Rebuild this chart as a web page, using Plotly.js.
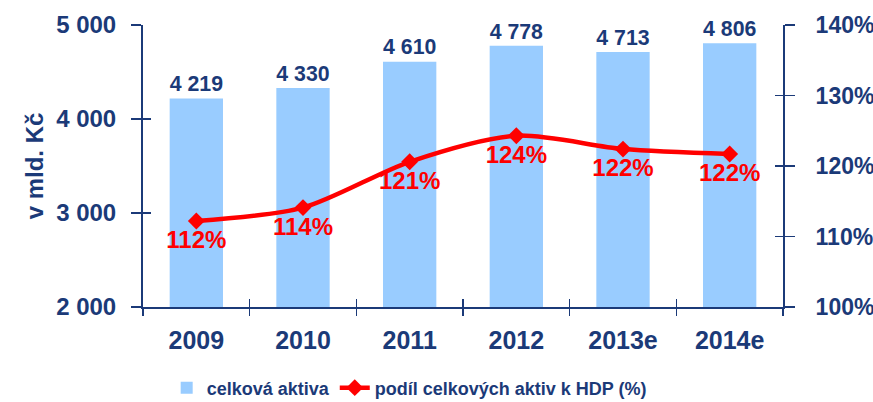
<!DOCTYPE html>
<html>
<head>
<meta charset="utf-8">
<script src="https://cdn.plot.ly/plotly-3.0.1.min.js"></script>
<style>html,body{margin:0;padding:0;background:#fff;}#chart{width:873px;height:402px;}</style>
</head>
<body>
<div id="chart"></div>
<script>
const years = ['2009', '2010', '2011', '2012', '2013e', '2014e'];
const assets = [4219, 4330, 4610, 4778, 4713, 4806];
const shareGDP = [112.2, 114.1, 120.6, 124.3, 122.4, 121.7];
const yTicks = [2000, 3000, 4000, 5000];
const y2Ticks = [100, 110, 120, 130, 140];
const y2TickText = y2Ticks.map(v => v + '%');

const navy = '#1b3a78';
const fam = 'Arial, "Liberation Sans", sans-serif';

const traces = [
  {
    type: 'bar', x: years, y: assets, name: 'celková aktiva',
    marker: {color: '#99ccff'},
    texttemplate: '%{y:,d}', textposition: 'outside', cliponaxis: false,
    textfont: {family: fam, size: 25, color: navy, weight: 'bold'},
    hoverinfo: 'skip'
  },
  {
    type: 'scatter', x: years, y: shareGDP, yaxis: 'y2', name: 'podíl celkových aktiv k HDP (%)',
    mode: 'lines+markers+text',
    line: {color: '#ff0000', width: 4.5, shape: 'spline', smoothing: 0.8},
    marker: {symbol: 'diamond', size: 13, color: '#ff0000'},
    texttemplate: '%{y:.0f}%', textposition: 'bottom center', cliponaxis: false,
    textfont: {family: fam, size: 24, color: '#ff0000', weight: 'bold'},
    hoverinfo: 'skip'
  }
];

const layout = {
  width: 873, height: 402,
  margin: {l: 143, r: 90, t: 25, b: 95},
  paper_bgcolor: '#fff', plot_bgcolor: '#fff',
  separators: ', ',
  font: {family: fam, color: navy, weight: 'bold'},
  bargap: 0.5,
  showlegend: true,
  legend: {orientation: 'h', x: 0.037, xanchor: 'left', y: 0.035, yref: 'container', yanchor: 'middle',
           font: {family: fam, size: 18, color: navy, weight: 'bold'}, traceorder: 'normal'},
  xaxis: {
    type: 'category', tickson: 'boundaries', ticks: 'outside', ticklen: 7, tickwidth: 1.5, tickcolor: navy,
    showline: true, linecolor: navy, linewidth: 2, showgrid: false, zeroline: false, automargin: false,
    tickfont: {family: fam, size: 25, color: navy, weight: 'bold'}, ticklabelstandoff: 10
  },
  xaxis2: {
    overlaying: 'x', type: 'linear', range: [-0.5, 5.5], tickvals: [-0.5, 0.5, 1.5, 2.5, 3.5, 4.5, 5.5],
    ticks: 'inside', ticklen: 8, tickwidth: 1.5, tickcolor: navy, showticklabels: false, automargin: false,
    showline: false, showgrid: false, zeroline: false, side: 'bottom'
  },
  yaxis: {
    range: [2000, 5000], tickvals: yTicks, tickformat: ',d', ticks: 'outside', ticklen: 10, tickwidth: 1.5, tickcolor: navy,
    showline: true, linecolor: navy, linewidth: 2, showgrid: false, zeroline: false, automargin: false,
    tickfont: {family: fam, size: 24, color: navy, weight: 'bold'}, ticklabelstandoff: 10,
    title: {text: 'v mld. Kč', font: {family: fam, size: 24, color: navy, weight: 'bold'}, standoff: 6}
  },
  yaxis3: {
    overlaying: 'y', side: 'left', range: [2000, 5000], tickvals: yTicks, ticks: 'inside', ticklen: 8, tickwidth: 1.5,
    tickcolor: navy, showticklabels: false, showline: false, showgrid: false, zeroline: false, automargin: false
  },
  yaxis2: {
    overlaying: 'y', side: 'right', range: [100, 140], tickmode: 'array', tickvals: y2Ticks, ticktext: y2TickText,
    ticks: 'outside', ticklen: 10, automargin: false,
    tickwidth: 1.5, tickcolor: navy, showline: true, linecolor: navy, linewidth: 2, showgrid: false, zeroline: false,
    tickfont: {family: fam, size: 23, color: navy, weight: 'bold'}, ticklabelstandoff: 16
  },
  yaxis4: {
    overlaying: 'y', side: 'right', range: [100, 140], tickvals: y2Ticks, ticks: 'inside', ticklen: 8, tickwidth: 1.5,
    tickcolor: navy, showticklabels: false, showline: false, showgrid: false, zeroline: false, automargin: false
  }
};

traces.push({type: 'scatter', x: [0], y: [0], xaxis: 'x2', yaxis: 'y3', mode: 'markers', marker: {opacity: 0}, showlegend: false, hoverinfo: 'skip'});
traces.push({type: 'scatter', x: [0], y: [0], xaxis: 'x2', yaxis: 'y4', mode: 'markers', marker: {opacity: 0}, showlegend: false, hoverinfo: 'skip'});

Plotly.newPlot('chart', traces, layout, {staticPlot: true, displayModeBar: false});
</script>
</body>
</html>
